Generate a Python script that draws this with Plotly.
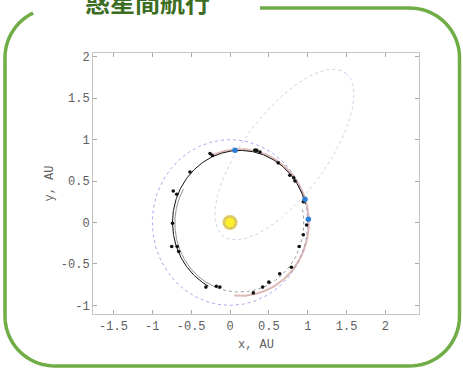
import numpy as np
import plotly.graph_objects as go

# ---------------- data ----------------
x_ticks = [-1.5, -1, -0.5, 0, 0.5, 1, 1.5, 2]
x_tick_text = ["-1.5", "-1", "-0.5", "0", "0.5", "1", "1.5", "2"]
y_ticks = [-1, -0.5, 0, 0.5, 1, 1.5, 2]
y_tick_text = ["-1", "-0.5", "0", "0.5", "1", "1.5", "2"]

# black trajectory sample points (AU)
black_x = [-0.257, -0.228, -0.515, -0.73, -0.686, -0.74, -0.75, -0.68, -0.66,
           -0.31, -0.176, -0.13, 0.30, 0.42, 0.50, 0.64, 0.79, 0.89, 0.943,
           0.986, 0.943, 0.836, 0.82, 0.77, 0.62, 0.386, 0.345, 0.32]
black_y = [0.833, 0.81, 0.61, 0.38, 0.34, -0.01, -0.29, -0.29, -0.35,
           -0.78, -0.77, -0.78, -0.85, -0.78, -0.72, -0.62, -0.54, -0.29, -0.148,
           -0.03, 0.25, 0.50, 0.54, 0.57, 0.72, 0.85, 0.87, 0.873]

# blue event points (AU)
blue_x = [0.064, 0.965, 1.008]
blue_y = [0.873, 0.28, 0.04]

# Sun position
sun_x = [0.0]
sun_y = [0.0]

# orbit ellipses: (cx, cy, rx, ry, tilt_deg, start_deg, end_deg)
earth_orbit = (0.0, 0.0, 1.0, 1.0, 0.0, 0, 360)
comet_orbit = (0.70, 0.82, 1.26, 0.52, 50.7, 0, 360)
transfer_arc = (0.13, 0.0, 0.87, 0.87, 0.0, 15, 242)
red_arc = (0.13, 0.0, 0.885, 0.885, 0.0, -95, 112)
inner_arc = (0.12, -0.01, 0.83, 0.83, 0.0, 150, 250)
inner_dotted = (0.12, -0.01, 0.83, 0.83, 0.0, 250, 372)


def ellipse(p, n=300):
    cx, cy, rx, ry, tilt, a0, a1 = p
    t = np.radians(np.linspace(a0, a1, n))
    th = np.radians(tilt)
    u, v = rx * np.cos(t), ry * np.sin(t)
    return cx + u * np.cos(th) - v * np.sin(th), cy + u * np.sin(th) + v * np.cos(th)


W, H = 463, 369
fig = go.Figure()

def add_line(p, color, width, dash, opacity=1.0):
    x, y = ellipse(p)
    fig.add_trace(go.Scatter(x=x, y=y, mode="lines", opacity=opacity,
                             line=dict(color=color, width=width, dash=dash),
                             hoverinfo="skip", showlegend=False))

add_line(earth_orbit, "#a9a9f2", 1, "dot")
add_line(comet_orbit, "#ccd3e6", 1, "dot")
add_line(red_arc, "rgb(190,120,110)", 2.0, "solid", 0.5)
add_line(inner_arc, "#777777", 0.8, "solid")
add_line(inner_dotted, "#9a9a9a", 1, "dot")
add_line(transfer_arc, "#111111", 1, "solid")

fig.add_trace(go.Scatter(x=black_x, y=black_y, mode="markers",
                         marker=dict(color="#111111", size=3.6),
                         hoverinfo="skip", showlegend=False))
fig.add_trace(go.Scatter(x=blue_x, y=blue_y, mode="markers",
                         marker=dict(color="#2b7fd6", size=5.5),
                         hoverinfo="skip", showlegend=False))
fig.add_trace(go.Scatter(x=sun_x, y=sun_y, mode="markers",
                         marker=dict(color="rgba(205,175,20,0.65)", size=15),
                         hoverinfo="skip", showlegend=False))
fig.add_trace(go.Scatter(x=sun_x, y=sun_y, mode="markers",
                         marker=dict(color="#fff02a", size=9),
                         hoverinfo="skip", showlegend=False))

# ---------------- frame (pixel geometry -> paper) ----------------
def px(x, y):
    return x / W, 1 - y / H

def arc_pts(cx, cy, r, a0, a1, n=20):
    t = np.radians(np.linspace(a0, a1, n))
    return [(cx + r * np.cos(a), cy + r * np.sin(a)) for a in t]

L, R, T, B, RAD = 5, 459.5, 6, 366, 50
pts = [(260, T), (R - RAD, T)]
pts += arc_pts(R - RAD, T + RAD, RAD, -90, 0)
pts += [(R, B - RAD)]
pts += arc_pts(R - RAD, B - RAD, RAD, 0, 90)
pts += [(L + RAD, B)]
pts += arc_pts(L + RAD, B - RAD, RAD, 90, 180)
pts += [(L, T + RAD)]
pts += arc_pts(L + RAD, T + RAD, RAD, 180, 244)
path = ""
for i, (a, b) in enumerate(pts):
    xp, yp = px(a, b)
    path += ("M" if i == 0 else "L") + f"{xp:.5f},{yp:.5f} "

fig.add_shape(type="path", path=path, xref="paper", yref="paper",
              line=dict(color="#70ad47", width=3.5), layer="above")

fig.add_annotation(text="<b>惑星間航行</b>", xref="paper", yref="paper",
                   x=83 / W, y=1 - (-1) / H, xanchor="left", yanchor="middle",
                   showarrow=False,
                   font=dict(family="Noto Sans CJK JP", size=25, color="#3b6e22"))

ax_left, ax_right, ax_top, ax_bot = 93, 419, 51, 314
tickfont = dict(family="Liberation Mono", size=12, color="#606060")
fig.update_layout(
    width=W, height=H, margin=dict(l=0, r=0, t=0, b=0),
    paper_bgcolor="white", plot_bgcolor="white",
    xaxis=dict(domain=[ax_left / W, ax_right / W], range=[-1.763, 2.432],
               tickvals=x_ticks, ticktext=x_tick_text, ticks="inside", ticklen=4,
               tickcolor="#aaaaaa", showline=True, linecolor="#c4c4c4", linewidth=1,
               mirror="ticks", showgrid=False, zeroline=False, tickfont=tickfont,
               title=dict(text="x, AU", font=tickfont, standoff=6)),
    yaxis=dict(domain=[1 - ax_bot / H, 1 - ax_top / H], range=[-1.108, 2.049],
               tickvals=y_ticks, ticktext=y_tick_text, ticks="inside", ticklen=4,
               tickcolor="#aaaaaa", showline=True, linecolor="#c4c4c4", linewidth=1,
               mirror="ticks", showgrid=False, zeroline=False, tickfont=tickfont,
               title=dict(text="y, AU", font=tickfont, standoff=4)),
)

fig.write_html("out.html", config={"displayModeBar": False},
               post_script="document.body.style.margin='0';document.body.style.padding='0';")
